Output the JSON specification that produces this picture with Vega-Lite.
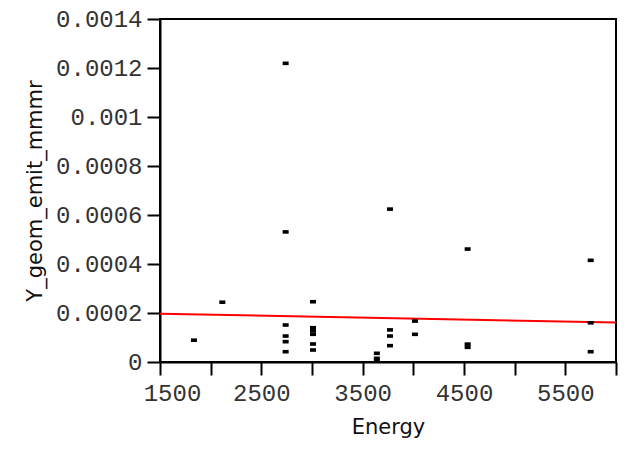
{
  "$schema": "https://vega.github.io/schema/vega-lite/v6.json",
  "width": 456,
  "height": 343,
  "autosize": {"type": "none"},
  "padding": {"left": 160, "top": 19, "right": 21, "bottom": 92},
  "background": "white",
  "config": {
    "view": {"stroke": "black", "strokeWidth": 2},
    "axis": {
      "grid": false,
      "domainColor": "black",
      "domainWidth": 2,
      "tickColor": "black",
      "tickWidth": 2,
      "tickSize": 13,
      "labelFont": "Liberation Mono",
      "labelFontSize": 24,
      "labelColor": "#333333",
      "titleFont": "DejaVu Sans",
      "titleFontSize": 21,
      "titleFontWeight": "normal",
      "titleColor": "#111111"
    }
  },
  "datasets": {
    "points": [
      {"Energy": 1835, "Y": 0.000089},
      {"Energy": 2115, "Y": 0.000244},
      {"Energy": 2740, "Y": 0.001219},
      {"Energy": 2740, "Y": 0.000531},
      {"Energy": 2740, "Y": 0.000151},
      {"Energy": 2740, "Y": 0.000106},
      {"Energy": 2740, "Y": 0.000083},
      {"Energy": 2740, "Y": 0.000042},
      {"Energy": 3010, "Y": 0.000246},
      {"Energy": 3010, "Y": 0.000140},
      {"Energy": 3010, "Y": 0.000127},
      {"Energy": 3010, "Y": 0.000113},
      {"Energy": 3010, "Y": 0.0000735},
      {"Energy": 3010, "Y": 0.000049},
      {"Energy": 3640, "Y": 0.0000355},
      {"Energy": 3640, "Y": 0.000015},
      {"Energy": 3640, "Y": 0.000007},
      {"Energy": 3770, "Y": 0.000624},
      {"Energy": 3770, "Y": 0.000131},
      {"Energy": 3770, "Y": 0.000106},
      {"Energy": 3770, "Y": 0.0000667},
      {"Energy": 4016, "Y": 0.000167},
      {"Energy": 4016, "Y": 0.000113},
      {"Energy": 4536, "Y": 0.000461},
      {"Energy": 4536, "Y": 0.000073},
      {"Energy": 4536, "Y": 0.000060},
      {"Energy": 5750, "Y": 0.000415},
      {"Energy": 5750, "Y": 0.000160},
      {"Energy": 5750, "Y": 0.000042}
    ],
    "fit": [
      {"Energy": 1500, "Y": 0.000197},
      {"Energy": 6000, "Y": 0.000161}
    ]
  },
  "layer": [
    {
      "data": {"name": "fit"},
      "mark": {"type": "line", "color": "#ff0000", "strokeWidth": 2, "clip": true},
      "encoding": {
        "x": {"field": "Energy", "type": "quantitative"},
        "y": {"field": "Y", "type": "quantitative"}
      }
    },
    {
      "data": {"name": "points"},
      "mark": {"type": "point", "shape": "M-1,-0.6H1V0.6H-1Z", "filled": true, "color": "black", "size": 36, "opacity": 1, "strokeWidth": 0},
      "encoding": {
        "x": {
          "field": "Energy",
          "type": "quantitative",
          "title": "Energy",
          "scale": {"domain": [1500, 6000], "nice": false, "zero": false},
          "axis": {
            "values": [1500, 2000, 2500, 3000, 3500, 4000, 4500, 5000, 5500, 6000],
            "labelExpr": "datum.value % 1000 == 500 ? datum.value + '' : ''",
            "labelFlush": false,
            "labelOffset": {"condition": {"test": "datum.value == 1500", "value": 12}, "value": 0},
            "labelPadding": 6,
            "titlePadding": 11
          }
        },
        "y": {
          "field": "Y",
          "type": "quantitative",
          "title": "Y_geom_emit_mmmr",
          "scale": {"domain": [0, 0.0014], "nice": false},
          "axis": {
            "values": [0, 0.0002, 0.0004, 0.0006, 0.0008, 0.001, 0.0012, 0.0014],
            "format": ".4~f",
            "labelFlush": false,
            "labelPadding": 5,
            "titlePadding": 10
          }
        }
      }
    }
  ]
}
